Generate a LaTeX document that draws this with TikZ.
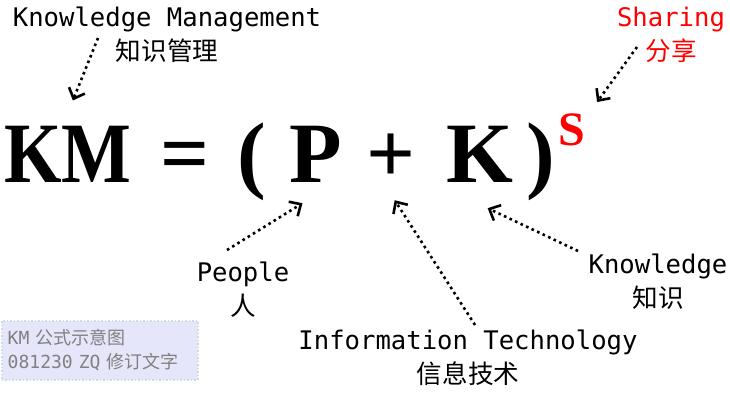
\documentclass[tikz,border=0pt]{standalone}
\usepackage{fontspec}
\usepackage{xcolor}
\usepackage{tikz}
\usetikzlibrary{arrows.meta}
\newfontfamily\labelfont{DejaVu Sans Mono}
\newfontfamily\cjkfont{Noto Sans CJK SC}
\newfontfamily\formulafont{Liberation Serif}
\definecolor{notefill}{RGB}{230,230,250}
\definecolor{noteline}{RGB}{200,222,222}
\definecolor{notetext}{RGB}{128,128,128}

\tikzset{
  formula/.style={inner sep=0pt, anchor=base west, font=\formulafont\bfseries\fontsize{86}{86}\selectfont},
  tag/.style={inner sep=0pt, anchor=north, align=center, font=\labelfont\fontsize{25.6}{34}\selectfont},
  pointer/.style={line width=2.6pt, dash pattern=on 2.6pt off 3.5pt, -{Straight Barb[length=9pt,width=17pt]}},
  memo/.style={fill=notefill, draw=noteline, dotted, line width=1.5pt, text=notetext,
    font=\labelfont\fontsize{18}{24}\selectfont, text width=184pt, align=left,
    inner xsep=6pt, inner ysep=0pt, minimum height=59pt}
}

\begin{document}
\begin{tikzpicture}[x=1pt,y=-1pt]
    \useasboundingbox (0,0) rectangle (730,400);
    % the formula
    \node[formula] (KM) at (4,182) {\scalebox{0.86}[1]{KM}};
    \node[formula] (eq) at (160,182) {=};
    \node[formula] (lpar) at (237,182) {(};
    \node[formula] (P) at (289,182) {P};
    \node[formula] (plus) at (366,182) {+};
    \node[formula] (K) at (446,182) {K};
    \node[formula] (rpar) at (526,182) {)};
    \node[formula, red, font=\formulafont\bfseries\fontsize{48}{48}\selectfont] (S) at (558,145) {S};

    % the labels
    \node[tag] (kmLab) at (167,7) {Knowledge Management\\{\cjkfont 知识管理}};
    \node[tag, text=red] (sLab) at (671,7) {Sharing\\{\cjkfont 分享}};
    \node[tag] (pLab) at (243,262) {People\\{\cjkfont 人}};
    \node[tag] (kLab) at (658,254) {Knowledge\\{\cjkfont 知识}};
    \node[tag] (itLab) at (468,330) {Information Technology\\{\cjkfont 信息技术}};

    \coordinate (kmTail) at (98,38);
    \coordinate (sTail) at (637,47);
    \coordinate (pTail) at (227,250);
    \coordinate (itTail) at (475,325);
    \coordinate (kTail) at (578,251);

    \draw[pointer] (kmTail) -- ([shift={(5,-25)}]KM.north);
    \draw[pointer] (sTail) -- ([shift={(12,-11)}]S.north east);
    \draw[pointer] (pTail) -- ([shift={(-13,21)}]P.south);
    \draw[pointer] (itTail) -- ([shift={(4,18)}]plus.south);
    \draw[pointer] (kTail) -- ([shift={(8,26)}]K.south);

    \node[memo, anchor=north west] (note) at (1,320) {KM {\cjkfont 公式示意图}\\081230 ZQ {\cjkfont 修订文字}};
\end{tikzpicture}
\end{document}
